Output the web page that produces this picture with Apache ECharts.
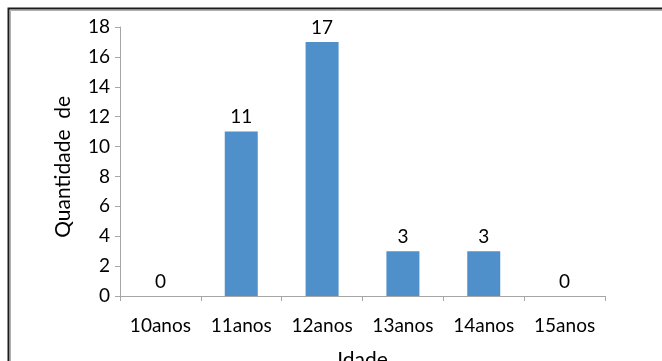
<!DOCTYPE html>
<html>
<head>
<meta charset="utf-8">
<script src="https://cdn.jsdelivr.net/npm/echarts@6/dist/echarts.min.js"></script>
<style>
  html, body { margin: 0; padding: 0; background: #fff; }
  #chart { width: 662px; height: 361px; }
</style>
</head>
<body>
<div id="chart"></div>
<script>
// Number of students per age
const categories = ['10anos', '11anos', '12anos', '13anos', '14anos', '15anos'];
const counts = [0, 11, 17, 3, 3, 0];
const yTicks = { min: 0, max: 18, interval: 2 };

const FONT = 'Lato, "Open Sans", sans-serif';
const axisGrey = '#A6A6A6';

const chart = echarts.init(document.getElementById('chart'));
chart.setOption({
  animation: false,
  backgroundColor: '#ffffff',
  grid: {
    left: 120, right: 57, top: 27, bottom: 65,
    containLabel: false,
    outerBoundsMode: 'none'
  },
  xAxis: {
    type: 'category',
    data: categories,
    name: 'Idade',
    nameLocation: 'middle',
    nameGap: 54,
    nameTextStyle: { fontFamily: FONT, fontSize: 21, color: '#000' },
    axisLine: { lineStyle: { color: axisGrey, width: 1 } },
    axisTick: { show: true, length: 5, alignWithLabel: false, lineStyle: { color: axisGrey } },
    axisLabel: { fontFamily: FONT, fontSize: 19, color: '#000', margin: 20 },
    splitLine: { show: false }
  },
  yAxis: {
    type: 'value',
    min: yTicks.min,
    max: yTicks.max,
    interval: yTicks.interval,
    name: 'Quantidade  de  ',
    nameLocation: 'middle',
    nameGap: 46,
    nameTextStyle: { fontFamily: FONT, fontSize: 21, color: '#000' },
    axisLine: { show: true, lineStyle: { color: axisGrey, width: 1 } },
    axisTick: { show: true, length: 5, lineStyle: { color: axisGrey } },
    axisLabel: { fontFamily: FONT, fontSize: 19, color: '#000', margin: 10 },
    splitLine: { show: false }
  },
  series: [{
    type: 'bar',
    data: counts,
    barWidth: 33,
    itemStyle: { color: '#4F8FCA' },
    label: {
      show: true,
      position: 'top',
      distance: 5,
      fontFamily: FONT,
      fontSize: 19,
      color: '#000'
    }
  }],
  graphic: [
    {
      type: 'rect',
      silent: true,
      shape: { x: 8.5, y: 8.5, width: 700, height: 400 },
      style: { fill: null, stroke: '#1c1c1c', lineWidth: 2 }
    },
    {
      type: 'rect',
      silent: true,
      shape: { x: 10.5, y: 10.5, width: 700, height: 400 },
      style: { fill: null, stroke: '#b0b0b0', lineWidth: 1 }
    }
  ]
});
</script>
</body>
</html>
